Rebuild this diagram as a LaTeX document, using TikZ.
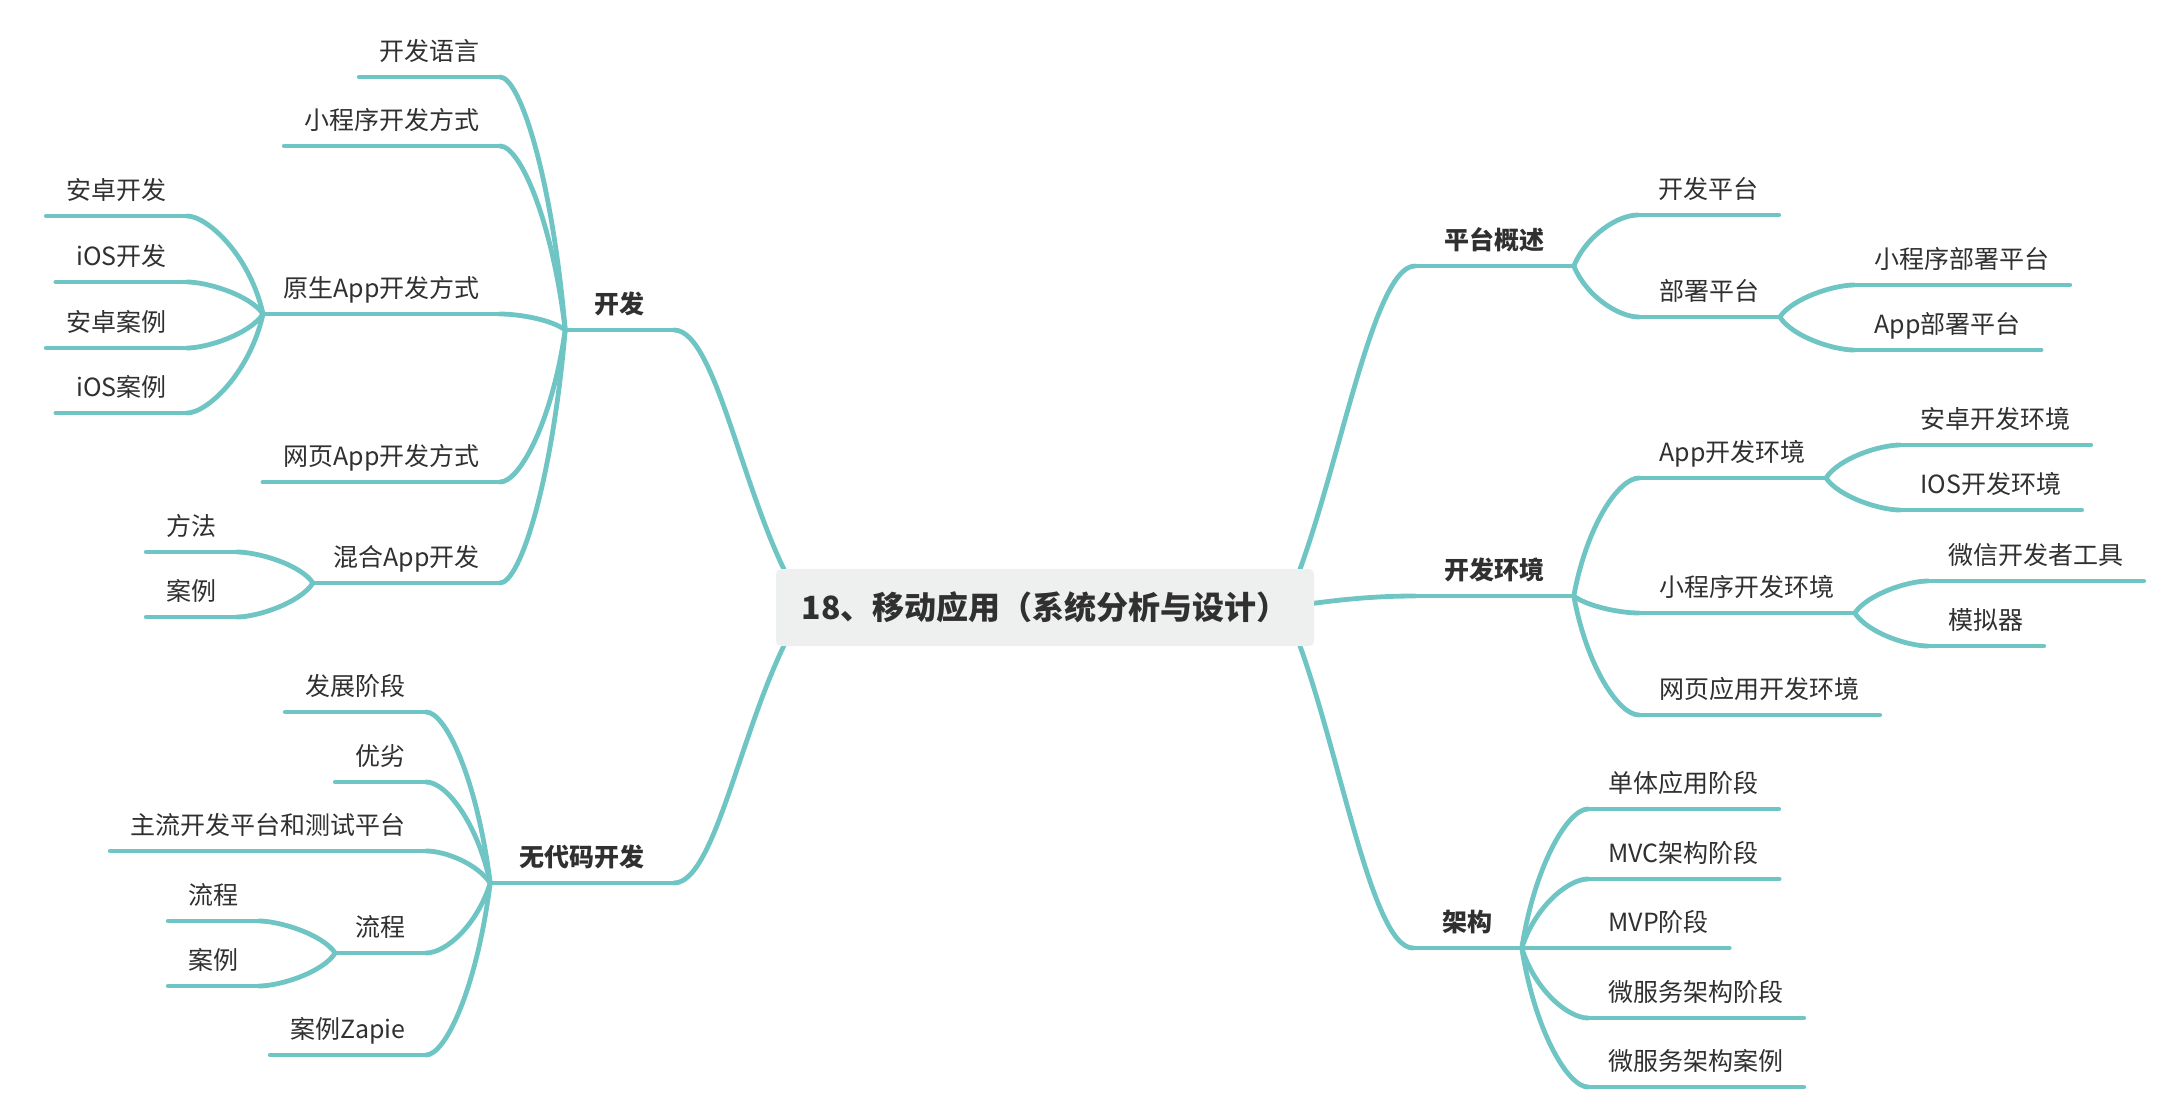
\documentclass[tikz,border=0pt]{standalone}
\usepackage{fontspec}
\setmainfont{Noto Sans CJK SC}
\usetikzlibrary{backgrounds}
\definecolor{linkteal}{HTML}{6FC4C4}
\definecolor{rootgray}{HTML}{EEF0EF}
\definecolor{inkgray}{HTML}{303030}
\tikzset{
  link/.style={draw=linkteal,line width=2.4pt,line cap=round},
  topic/.style={font=\fontsize{12.5}{15}\selectfont,text=inkgray,inner xsep=10pt,inner ysep=5pt,text height=10pt,text depth=3.1pt},
  mainbranch/.style={topic,font=\fontsize{12.5}{15}\selectfont\bfseries,inner xsep=14.5pt},
  centre/.style={fill=rootgray,rounded corners=2.5pt,minimum width=269pt,minimum height=38.5pt,font=\fontsize{16}{19}\selectfont\bfseries,text=inkgray}
}
\begin{document}
\begin{tikzpicture}[x=.5pt,y=.5pt]
 \path[use as bounding box] (0,0) rectangle (2176,-1098);
 \node[centre] (root) at (1045,-607.5) {18、移动应用（系统分析与设计）};
 % first level
 \node[mainbranch,anchor=south east] (kf) at (674,-330) {开发};
 \node[mainbranch,anchor=south east] (wdm) at (674,-883) {无代码开发};
 \node[mainbranch,anchor=south west] (ptgs) at (1415,-266) {平台概述};
 \node[mainbranch,anchor=south west] (kfhj) at (1415,-596) {开发环境};
 \node[mainbranch,anchor=south west] (jg) at (1413,-948) {架构};
 % left topics
 \foreach \n/\x/\y/\t in {kfyy/500/77/开发语言,xcx/500/146/小程序开发方式,ys/500/314/原生App开发方式,wy/500/482/网页App开发方式,hh/500/583/混合App开发,
   az/187/216/安卓开发,iosk/187/282/iOS开发,azal/187/348/安卓案例,iosal/187/413/iOS案例,ff/237/552/方法,hhal/237/617/案例,
   fz/426/712/发展阶段,yl/426/782/优劣,zl/426/851/主流开发平台和测试平台,lc/426/953/流程,zap/426/1055/案例Zapie,lclc/259/921/流程,lcal/259/986/案例}
  \node[topic,anchor=south east] (\n) at (\x,-\y) {\t};
 % right topics
 \foreach \n/\x/\y/\t in {kfpt/1638/215/开发平台,bspt/1639/317/部署平台,xbs/1854/285/小程序部署平台,abs/1854/350/App部署平台,
   ahj/1639/478/App开发环境,xhj/1639/613/小程序开发环境,whj/1639/715/网页应用开发环境,azhj/1900/445/安卓开发环境,ioshj/1900/510/IOS开发环境,
   wx/1928/581/微信开发者工具,mnq/1928/646/模拟器,dt/1588/809/单体应用阶段,mvc/1588/879/MVC架构阶段,mvp/1588/948/MVP阶段,
   wfw/1588/1018/微服务架构阶段,wal/1588/1087/微服务架构案例}
  \node[topic,anchor=south west] (\n) at (\x,-\y) {\t};
 % underlines
 \foreach \n in {kf,wdm,ptgs,kfhj,jg,kfyy,xcx,ys,wy,hh,az,iosk,azal,iosal,ff,hhal,fz,yl,zl,lc,zap,lclc,lcal,
   kfpt,bspt,xbs,abs,ahj,xhj,whj,azhj,ioshj,wx,mnq,dt,mvc,mvp,wfw,wal}
  \draw[link] (\n.south west) -- (\n.south east);
 \begin{scope}[on background layer]
  % root to first level
  \draw[link] (kf.south east) .. controls +(45,0) and +(-60,87) .. ([xshift=15pt]root.west);
  \draw[link] (wdm.south east) .. controls +(45,0) and +(-60,-87) .. ([xshift=15pt]root.west);
  \draw[link] ([xshift=-15pt]root.east) .. controls +(50,107) and +(-45,0) .. (ptgs.south west);
  \draw[link] ([xshift=-15pt]root.east) .. controls +(40,6) and +(-50,0) .. (kfhj.south west);
  \draw[link] ([xshift=-15pt]root.east) .. controls +(50,-107) and +(-45,0) .. (jg.south west);
  % left side
  \foreach \c/\h in {kfyy/152,xcx/110,ys/10,wy/-91,hh/-152}
   \draw[link] (kf.south west) .. controls +(-13,\h) and +(20,0) .. (\c.south east);
  \foreach \c/\h in {az/59,iosk/19,azal/-20,iosal/-59}
   \draw[link] (ys.south west) .. controls +(-13,\h) and +(20,0) .. (\c.south east);
  \foreach \c/\h in {ff/19,hhal/-20}
   \draw[link] (hh.south west) .. controls +(-13,\h) and +(20,0) .. (\c.south east);
  \foreach \c/\h in {fz/103,yl/61,zl/19,lc/-42,zap/-103}
   \draw[link] (wdm.south west) .. controls +(-13,\h) and +(20,0) .. (\c.south east);
  \foreach \c/\h in {lclc/19,lcal/-20}
   \draw[link] (lc.south west) .. controls +(-13,\h) and +(20,0) .. (\c.south east);
  % right side
  \foreach \c/\h in {kfpt/31,bspt/-31}
   \draw[link] (ptgs.south east) .. controls +(13,\h) and +(-20,0) .. (\c.south west);
  \foreach \c/\h in {xbs/19,abs/-20}
   \draw[link] (bspt.south east) .. controls +(13,\h) and +(-20,0) .. (\c.south west);
  \foreach \c/\h in {ahj/71,xhj/-10,whj/-71}
   \draw[link] (kfhj.south east) .. controls +(13,\h) and +(-20,0) .. (\c.south west);
  \foreach \c/\h in {azhj/20,ioshj/-19}
   \draw[link] (ahj.south east) .. controls +(13,\h) and +(-20,0) .. (\c.south west);
  \foreach \c/\h in {wx/19,mnq/-20}
   \draw[link] (xhj.south east) .. controls +(13,\h) and +(-20,0) .. (\c.south west);
  \foreach \c/\h in {dt/83,mvc/41,mvp/0,wfw/-42,wal/-83}
   \draw[link] (jg.south east) .. controls +(13,\h) and +(-20,0) .. (\c.south west);
 \end{scope}
\end{tikzpicture}
\end{document}
